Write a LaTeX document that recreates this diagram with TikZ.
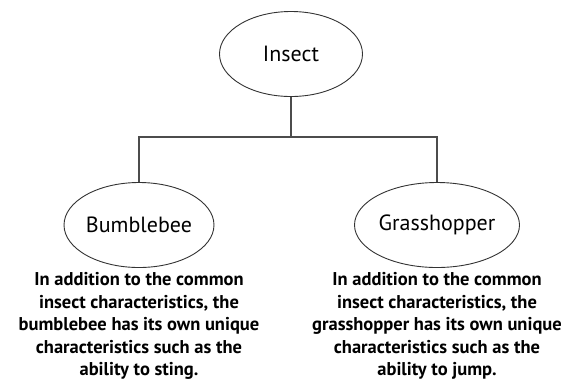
\documentclass[tikz,border=0pt]{standalone}
\usepackage{fontspec}
\setmainfont{PT Sans}
\usepackage{tikz}
\usetikzlibrary{positioning}
\usetikzlibrary{shapes.geometric}

\begin{document}
\begin{tikzpicture}[ x = 1pt, y = 1pt
                     , node distance = 5pt
                     , line width = 1.1pt
                     , every node/.style = { align = center
                                         , inner sep = 0pt }
                     ]

    \tikzset{ kind/.style = { ellipse
                            , draw = black!80
                            , line width = 0.9pt
                            , minimum width = 143pt
                            , minimum height = 85pt
                            , font = \fontsize{22}{26}\selectfont }
            , blurb/.style = { font = \fontsize{18.5}{22.5}\selectfont\bfseries }}

    \useasboundingbox (0,0) rectangle (567,-384);
    %%
    %% Nodes
    %%
    \node (insect) [kind] at (291,-54)   {Insect};
    \node (bee)    [kind] at (139,-225)  {Bumblebee};
    \node (hopper) [kind] at (437,-225)  {Grasshopper};
    \node (beetxt) [blurb, below = 4pt of bee]
      {In addition to the common\\ insect characteristics, the\\
       bumblebee has its own unique\\ characteristics such as the\\
       ability to sting.};
    \node (hoptxt) [blurb, below = 4pt of hopper]
      {In addition to the common\\ insect characteristics, the\\
       grasshopper has its own unique\\ characteristics such as the\\
       ability to jump.};
    \coordinate (fork) at (291,-137);
    %%
    %% Connectors
    %%
    \draw[black!70] (insect) -- (fork);
    \draw[black!70] (bee) |- (fork) -| (hopper);
  \end{tikzpicture}
\end{document}
